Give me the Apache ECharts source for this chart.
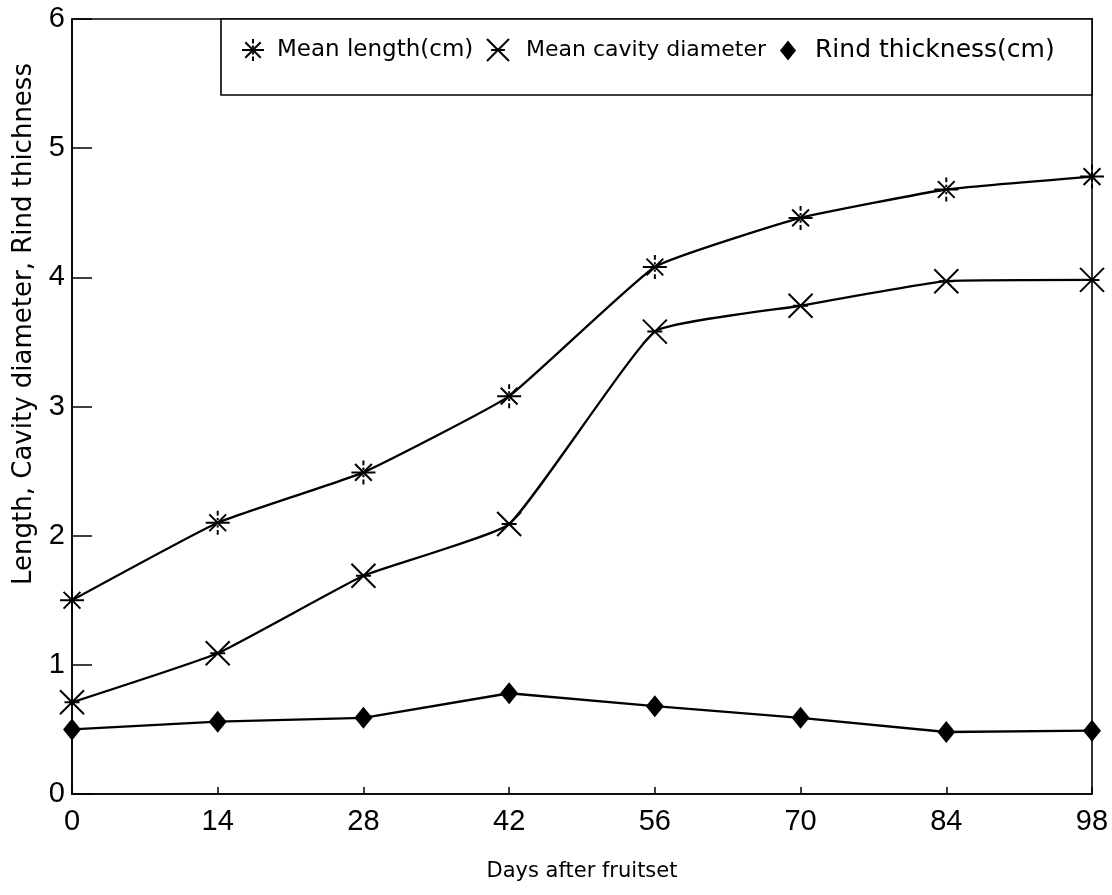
<!DOCTYPE html>
<html>
<head>
<meta charset="utf-8">
<title>Fruit growth after fruitset</title>
<script src="https://cdn.jsdelivr.net/npm/echarts@6/dist/echarts.min.js"></script>
<style>
  html, body { margin: 0; padding: 0; background: #fff; }
  #chart { width: 1112px; height: 895px; }
</style>
</head>
<body>
<div id="chart"></div>
<script>
// Days after fruitset (x positions)
const days = [0, 14, 28, 42, 56, 70, 84, 98];

// Measurements (cm)
const meanLength = [1.50, 2.10, 2.49, 3.08, 4.08, 4.46, 4.68, 4.78];
const meanCavity = [0.71, 1.09, 1.69, 2.09, 3.58, 3.78, 3.97, 3.98];
const rindThickness = [0.50, 0.56, 0.59, 0.78, 0.68, 0.59, 0.48, 0.49];

const seriesNames = ['Mean length(cm)', 'Mean cavity diameter', 'Rind thickness(cm)'];
const yTicks = [0, 1, 2, 3, 4, 5, 6];

const FONT = '"Liberation Sans", Arial, sans-serif';
const WIDE = '"DejaVu Sans", Verdana, sans-serif';

// Stroked marker shapes
const starPath = 'path://M0 10 L20 10 M3 3 L17 17 M3 17 L17 3 M10 0 L10 4 M10 6 L10 8 M10 12 L10 14 M10 16 L10 20';
const crossPath = 'path://M2 2 L18 18 M2 18 L18 2 M5 10 L15 10';

function pairs(ys) {
  return days.map((d, i) => [d, ys[i]]);
}

const strokeMarker = { color: 'rgba(0,0,0,0)', borderColor: '#000', borderWidth: 2 };

// One legend entry per block, so each can sit at its own place in the key box
function legendEntry(name, icon, style, left, fontSize, gap, iw, ih) {
  return {
    left: left, top: 38, padding: 0,
    itemWidth: iw, itemHeight: ih,
    textStyle: { fontFamily: WIDE, fontSize: fontSize, color: '#000', padding: [0, 0, 0, gap] },
    data: [{ name: name, icon: icon, itemStyle: style }]
  };
}

const chart = echarts.init(document.getElementById('chart'), null, { renderer: 'canvas' });

chart.setOption({
  backgroundColor: '#fff',
  animation: false,
  textStyle: { fontFamily: FONT, color: '#000' },
  grid: {
    left: 72, right: 20, top: 19, bottom: 101,
    show: true, borderColor: '#000', borderWidth: 1.6, backgroundColor: 'transparent'
  },
  legend: [
    legendEntry(seriesNames[0], starPath, strokeMarker, 241, 23, 8, 22, 22),
    legendEntry(seriesNames[1], crossPath, strokeMarker, 486, 22, 12, 22, 22),
    legendEntry(seriesNames[2], 'diamond', { color: '#000', borderWidth: 0 }, 780, 25, 14, 16, 20)
  ],
  graphic: [
    {
      type: 'rect',
      shape: { x: 221, y: 19, width: 871, height: 76 },
      style: { fill: '#fff', stroke: '#000', lineWidth: 1.6 },
      z: 1
    },
    {
      type: 'text',
      x: 24, y: 324,
      rotation: Math.PI / 2,
      style: {
        text: 'Length, Cavity diameter, Rind thichness',
        font: '26px ' + WIDE,
        fill: '#000',
        align: 'center',
        verticalAlign: 'middle'
      },
      z: 10
    }
  ],
  xAxis: {
    type: 'value',
    min: 0, max: 98, interval: 14,
    name: 'Days after fruitset',
    nameLocation: 'middle',
    nameGap: 67,
    nameTextStyle: { fontFamily: WIDE, fontSize: 21, color: '#000' },
    axisLine: { show: true, lineStyle: { color: '#000', width: 1.6 } },
    axisTick: { show: true, inside: true, length: 7, lineStyle: { color: '#000', width: 1.5 } },
    axisLabel: { fontFamily: FONT, fontSize: 29, color: '#000', margin: 13 },
    splitLine: { show: false }
  },
  yAxis: {
    type: 'value',
    min: yTicks[0], max: yTicks[yTicks.length - 1], interval: 1,
    axisLine: { show: true, lineStyle: { color: '#000', width: 1.6 } },
    axisTick: { show: true, inside: true, length: 20, lineStyle: { color: '#000', width: 1.5 } },
    axisLabel: { fontFamily: FONT, fontSize: 29, color: '#000', margin: 7 },
    splitLine: { show: false }
  },
  series: [
    {
      name: seriesNames[0],
      type: 'line',
      data: pairs(meanLength),
      smooth: 0.12,
      symbol: starPath,
      symbolSize: 24,
      color: '#000',
      lineStyle: { color: '#000', width: 2.3 },
      itemStyle: strokeMarker,
      z: 3
    },
    {
      name: seriesNames[1],
      type: 'line',
      data: pairs(meanCavity),
      smooth: 0.12,
      symbol: crossPath,
      symbolSize: 24,
      color: '#000',
      lineStyle: { color: '#000', width: 2.3 },
      itemStyle: strokeMarker,
      z: 3
    },
    {
      name: seriesNames[2],
      type: 'line',
      data: pairs(rindThickness),
      symbol: 'diamond',
      symbolSize: [18, 22],
      color: '#000',
      lineStyle: { color: '#000', width: 2.3 },
      itemStyle: { color: '#000' },
      z: 3
    }
  ]
});
</script>
</body>
</html>
